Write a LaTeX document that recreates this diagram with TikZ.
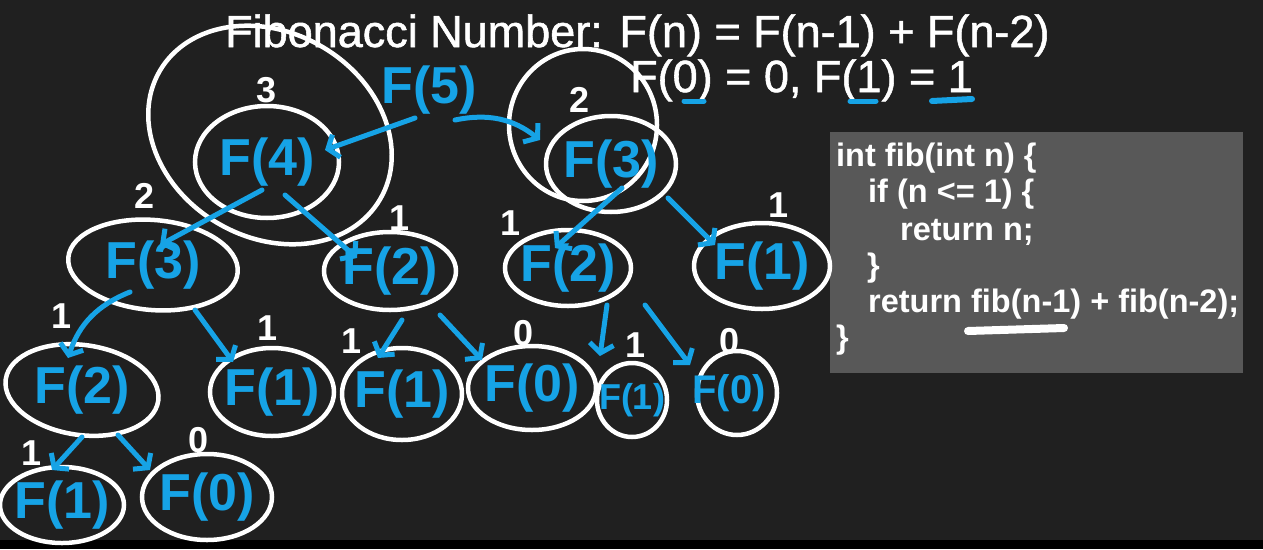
\documentclass[tikz,border=0pt]{standalone}
\usepackage{fontspec}
\setmainfont{Liberation Sans}
\newfontfamily\headfont{Liberation Sans}[BoldFont={Liberation Sans},BoldFeatures={FakeBold=1.2}]
\usepackage{xcolor}
\usetikzlibrary{arrows.meta,positioning,shapes.geometric,calc}

\definecolor{board}{RGB}{32,32,32}
\definecolor{penblue}{RGB}{22,163,230}
\definecolor{codegray}{RGB}{88,88,88}

\begin{document}
\begin{tikzpicture}[x=1pt,y=-1pt,
  ring/.style={draw=white,ellipse,line width=4.5pt,inner sep=0pt},
  fntext/.style={text=penblue,font=\bfseries\fontsize{52}{52}\selectfont,inner sep=0pt},
  num/.style={text=white,font=\bfseries\fontsize{36}{36}\selectfont,inner sep=0pt},
  call/.style={draw=penblue,line width=5pt,line cap=round,-{Straight Barb[length=9pt,width=24pt]}},
  codeline/.style={anchor=base west,text=white,font=\bfseries\fontsize{32.5}{36}\selectfont,inner sep=0pt},
  headline/.style={anchor=base west,text=white,font=\headfont\bfseries\fontsize{45}{45}\selectfont,inner sep=0pt}]
\fill[board] (0,0) rectangle (1263,540);
\fill[black] (0,540) rectangle (1263,549);
\useasboundingbox (0,0) rectangle (1263,549);

% heading
\node[headline] (title) at (225,47) {Fibonacci Number: F(n) = F(n-1) + F(n-2)};
\node[headline] (base) at (630,92) {F(0) = 0, F(1) = 1};
\draw[penblue,line width=5pt,line cap=round] (684,101) -- (704,101);
\draw[penblue,line width=5pt,line cap=round] (850,101) -- (876,101);
\draw[penblue,line width=6pt,line cap=round] (932,101) -- (972,99);

% code
\node[fill=codegray,anchor=north west,minimum width=413,minimum height=241,inner sep=0pt] (code) at (830,132) {};
\node[codeline] (l1) at (836,166) {int fib(int n) \{};
\node[codeline] (l2) at (868,202) {if (n <= 1) \{};
\node[codeline] (l3) at (900,240) {return n;};
\node[codeline] (l4) at (867,276) {\}};
\node[codeline] (l5) at (868,312) {return fib(n-1) + fib(n-2);};
\node[codeline] (l6) at (836,348) {\}};
\draw[white,line width=8pt,line cap=round] (968,331) -- (1064,328);

% call tree
\node[fntext] (f5) at (429,90) {F(5)};
\node[ring,minimum width=255,minimum height=205,rotate=-30] (ring4) at (270,135) {};
\node[ring,minimum width=148,minimum height=152] (ring3) at (583,125) {};
\node[ring,minimum width=144,minimum height=112,label={[fntext]center:F(4)}] (f4) at (267,162) {};
\node[ring,minimum width=130,minimum height=96,label={[fntext]center:F(3)}] (f3r) at (611,164) {};
\node[ring,minimum width=170,minimum height=90,rotate=-5,label={[fntext]center:F(3)}] (f3l) at (153,265) {};
\node[ring,minimum width=132,minimum height=78,label={[fntext]center:F(2)}] (f2a) at (390,271) {};
\node[ring,minimum width=126,minimum height=76,label={[fntext]center:F(2)}] (f2b) at (568,268) {};
\node[ring,minimum width=136,minimum height=86,label={[fntext]center:F(1)}] (f1a) at (762,266) {};
\node[ring,minimum width=154,minimum height=90,rotate=-8,label={[fntext]center:F(2)}] (f2c) at (82,390) {};
\node[ring,minimum width=124,minimum height=88,label={[fntext]center:F(1)}] (f1b) at (272,392) {};
\node[ring,minimum width=120,minimum height=92,label={[fntext]center:F(1)}] (f1c) at (402,394) {};
\node[ring,minimum width=128,minimum height=84,label={[fntext]center:F(0)}] (f0a) at (532,388) {};
\node[ring,minimum width=70,minimum height=74,label={[fntext,font=\bfseries\fontsize{36}{36}\selectfont]center:F(1)}] (f1d) at (632,400) {};
\node[ring,minimum width=80,minimum height=84,label={[fntext,font=\bfseries\fontsize{40}{40}\selectfont,xshift=-8]center:F(0)}] (f0b) at (737,393) {};
\node[ring,minimum width=124,minimum height=76,label={[fntext]center:F(1)}] (f1e) at (62,505) {};
\node[ring,minimum width=130,minimum height=86,label={[fntext]center:F(0)}] (f0c) at (207,497) {};

% return values
\node[num] (v4) at (267,90) {3};
\node[num] (v3r) at (580,100) {2};
\node[num] (v3l) at (145,196) {2};
\node[num] (v2a) at (400,218) {1};
\node[num] (v2b) at (511,223) {1};
\node[num] (v1a) at (778,205) {1};
\node[num] (v2c) at (62,316) {1};
\node[num] (v1b) at (268,328) {1};
\node[num] (v1c) at (352,341) {1};
\node[num] (v0a) at (524,333) {0};
\node[num] (v1d) at (636,345) {1};
\node[num] (v0b) at (730,341) {0};
\node[num] (v1e) at (32,453) {1};
\node[num] (v0c) at (199,440) {0};

% calls
\draw[call] ($(f5)+(-14,28)$) -- ($(f4)+(58,-12)$);
\draw[call] ($(f5)+(26,30)$) to[bend left=25] ($(f3r)+(-71,-24)$);
\draw[call] ($(f4)+(-5,28)$) -- ($(f3l)+(7,-20)$);
\draw[call] ($(f4)+(18,33)$) -- ($(f2a)+(-33,-13)$);
\draw[call] ($(f3r)+(11,24)$) -- ($(f2b)+(-13,-20)$);
\draw[call] ($(f3r)+(57,34)$) -- ($(f1a)+(-47,-21)$);
\draw[call] ($(f3l)+(-23,27)$) to[bend right=25] ($(f2c)+(-14,-32)$);
\draw[call] ($(f3l)+(42,45)$) -- ($(f1b)+(-39,-30)$);
\draw[call] ($(f2a)+(12,49)$) -- ($(f1c)+(-24,-36)$);
\draw[call] ($(f2a)+(50,44)$) -- ($(f0a)+(-50,-28)$);
\draw[call] ($(f2b)+(39,37)$) -- ($(f1d)+(-32,-44)$);
\draw[call] ($(f2b)+(77,37)$) -- ($(f0b)+(-47,-28)$);
\draw[call] ($(f2c)+(0,47)$) -- ($(f1e)+(-10,-35)$);
\draw[call] ($(f2c)+(36,45)$) -- ($(f0c)+(-57,-27)$);
\end{tikzpicture}
\end{document}
